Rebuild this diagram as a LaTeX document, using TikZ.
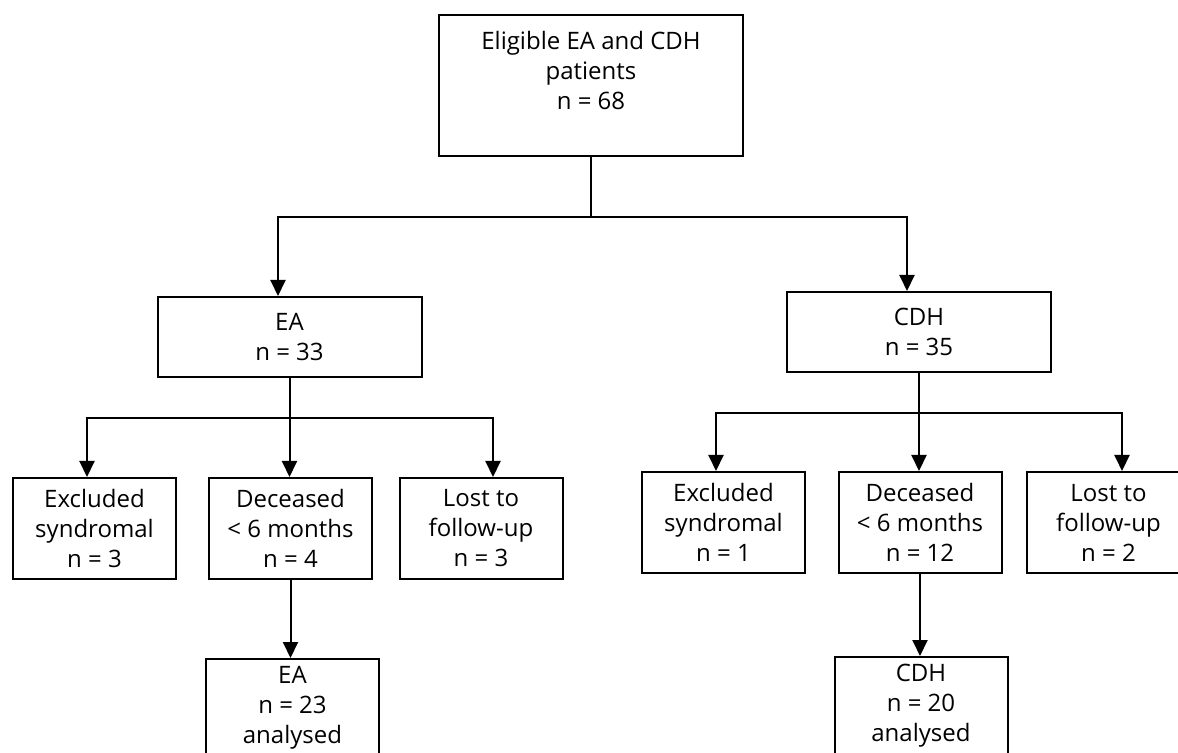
\documentclass[tikz,border=0pt]{standalone}
\usepackage{fontspec}
\setmainfont{Open Sans}
\usetikzlibrary{arrows.meta,positioning}

\tikzset{
  box/.style={draw,line width=1pt,inner sep=0pt,align=center,
    font=\fontsize{12}{15}\selectfont},
  group/.style={box,minimum width=132pt,minimum height=40pt},
  small/.style={box,minimum width=81.5pt,minimum height=50.5pt},
  final/.style={box,minimum width=86.5pt,minimum height=49pt}
}

\begin{document}
\begin{tikzpicture}[x=0.5pt,y=-0.5pt,->,>={Triangle[width=7.5pt,length=8pt]},line width=1pt]
    \useasboundingbox (0,0) rectangle (1178,753);

    \node[box,minimum width=152pt,minimum height=70.5pt] (all) at (591,85.5)
      {Eligible EA and CDH\\patients\\n = 68\\ \mbox{}};
    \node[group] (ea) at (289.5,337) {EA\\n = 33};
    \node[group] (cdh) at (919,332) {CDH\\n = 35};

    \node[small] (eaex) at (94.5,528.5) {Excluded\\syndromal\\n = 3};
    \node[small] (eadec) at (290.5,528.5) {Deceased\\< 6 months\\n = 4};
    \node[small] (ealost) at (481,528.5) {Lost to\\follow-up\\n = 3};
    \node[final,below of=eadec,node distance=89.75pt,xshift=1pt] (eafin) {EA\\n = 23\\analysed};

    \node[small] (cdhex) at (723.5,522.5) {Excluded\\syndromal\\n = 1};
    \node[small] (cdhdec) at (920,522.5) {Deceased\\< 6 months\\n = 12};
    \node[small] (cdhlost) at (1108.5,522.5) {Lost to\\follow-up\\n = 2};
    \node[final,below of=cdhdec,node distance=91.75pt,xshift=0.5pt] (cdhfin) {CDH\\n = 20\\analysed};

    % split of all patients
    \draw[-] (all.south) -- ++(0,-30pt) coordinate (allj);
    \draw (allj) -| ([xshift=-5.75pt]ea.north);
    \draw (allj) -| ([xshift=-6pt]cdh.north);

    % EA branch
    \draw[-] (ea.south) -- ++(0,-20pt) coordinate (eaj);
    \draw (eaj) -| ([xshift=-3.75pt]eaex.north);
    \draw (eaj) -- (eaj |- eadec.north);
    \draw (eaj) -| ([xshift=6pt]ealost.north);
    \draw (eadec.south) -- (eadec.south |- eafin.north);

    % CDH branch
    \draw[-] (cdh.south) -- ++(0,-20pt) coordinate (cdhj);
    \draw (cdhj) -| ([xshift=-3.75pt]cdhex.north);
    \draw (cdhj) -- (cdhj |- cdhdec.north);
    \draw (cdhj) -| ([xshift=6.75pt]cdhlost.north);
    \draw (cdhdec.south) -- (cdhdec.south |- cdhfin.north);
\end{tikzpicture}
\end{document}
